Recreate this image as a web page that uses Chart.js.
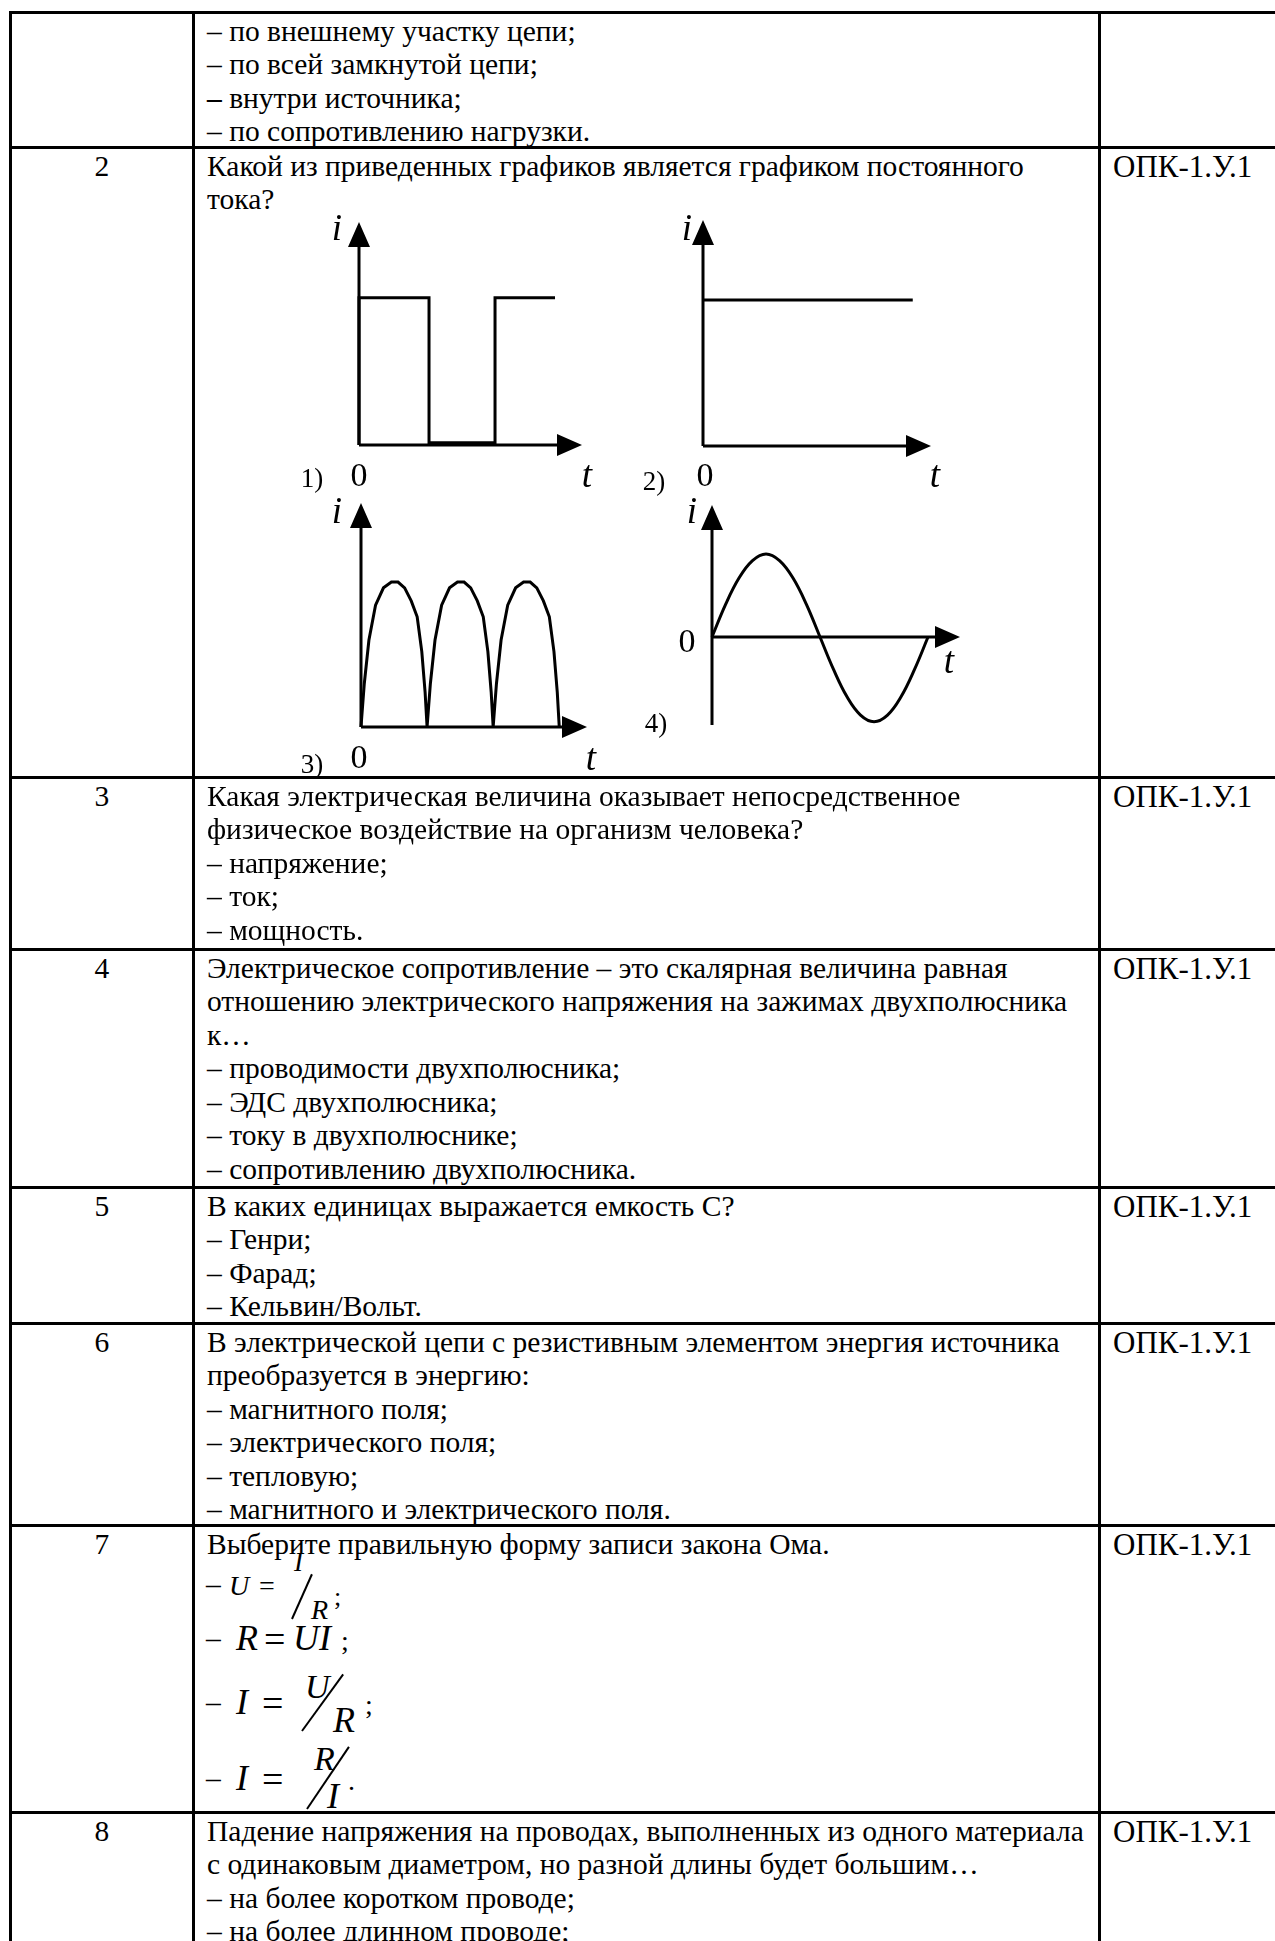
<!DOCTYPE html>
<html lang="ru">
<head>
<meta charset="UTF-8">
<title>Графики тока</title>
<script src="https://cdn.jsdelivr.net/npm/chart.js"></script>
<style>
  html, body { margin: 0; padding: 0; background: #fff; }
  body {
    width: 1275px; height: 1941px; overflow: hidden; position: relative;
    font-family: "Liberation Serif", "Times New Roman", serif; font-size: 29.5px; color: #000;
  }
  .h { position: absolute; left: 8.5px; width: 1300px; height: 3px; background: #000; }
  .v { position: absolute; top: 10.5px; height: 1960px; width: 3px; background: #000; }
  .num { position: absolute; left: 11.5px; width: 180.5px; text-align: center; line-height: 33.5px; }
  .txt { position: absolute; left: 207px; line-height: 33.5px; white-space: nowrap; }
  .code { position: absolute; left: 1113px; line-height: 33.5px; white-space: nowrap; font-size: 31px; }
  canvas { position: absolute; }
  .m { position: absolute; line-height: 1; white-space: nowrap; }
  .it { font-style: italic; }
  .sl { position: absolute; height: 2px; background: #000; transform-origin: 0 50%; }
</style>
</head>
<body>
  <!-- сетка таблицы -->
  <div class="h" style="top:10.5px"></div>
  <div class="h" style="top:145.5px"></div>
  <div class="h" style="top:775.5px"></div>
  <div class="h" style="top:947.5px"></div>
  <div class="h" style="top:1185.5px"></div>
  <div class="h" style="top:1321.5px"></div>
  <div class="h" style="top:1523.5px"></div>
  <div class="h" style="top:1810.5px"></div>
  <div class="v" style="left:8.5px"></div>
  <div class="v" style="left:192px"></div>
  <div class="v" style="left:1098px"></div>

  <!-- строка 1 (продолжение) -->
  <div class="txt" style="top:14.5px">– по внешнему участку цепи;<br>– по всей замкнутой цепи;<br><b>–</b> внутри источника;<br>– по сопротивлению нагрузки.</div>

  <!-- строка 2 -->
  <div class="num" style="top:149.5px">2</div>
  <div class="txt" style="top:149.5px">Какой из приведенных графиков является графиком постоянного<br>тока?</div>
  <div class="code" style="top:149.5px">ОПК-1.У.1</div>
  <canvas id="g1"></canvas>
  <canvas id="g2"></canvas>
  <canvas id="g3"></canvas>
  <canvas id="g4"></canvas>

  <!-- строка 3 -->
  <div class="num" style="top:779.5px">3</div>
  <div class="txt" style="top:779.5px">Какая электрическая величина оказывает непосредственное<br>физическое воздействие на организм человека?<br>– напряжение;<br>– ток;<br>– мощность.</div>
  <div class="code" style="top:779.5px">ОПК-1.У.1</div>

  <!-- строка 4 -->
  <div class="num" style="top:951.5px">4</div>
  <div class="txt" style="top:951.5px">Электрическое сопротивление – это скалярная величина равная<br>отношению электрического напряжения на зажимах двухполюсника<br>к…<br>– проводимости двухполюсника;<br>– ЭДС двухполюсника;<br>– току в двухполюснике;<br>– сопротивлению двухполюсника.</div>
  <div class="code" style="top:951.5px">ОПК-1.У.1</div>

  <!-- строка 5 -->
  <div class="num" style="top:1189.5px">5</div>
  <div class="txt" style="top:1189.5px">В каких единицах выражается емкость С?<br>– Генри;<br>– Фарад;<br>– Кельвин/Вольт.</div>
  <div class="code" style="top:1189.5px">ОПК-1.У.1</div>

  <!-- строка 6 -->
  <div class="num" style="top:1325.5px">6</div>
  <div class="txt" style="top:1325.5px">В электрической цепи с резистивным элементом энергия источника<br>преобразуется в энергию:<br>– магнитного поля;<br>– электрического поля;<br>– тепловую;<br>– магнитного и электрического поля.</div>
  <div class="code" style="top:1325.5px">ОПК-1.У.1</div>

  <!-- строка 7 -->
  <div class="num" style="top:1527.5px">7</div>
  <div class="txt" style="top:1527.5px">Выберите правильную форму записи закона Ома.</div>
  <div class="code" style="top:1527.5px">ОПК-1.У.1</div>
  <!-- U = I/R -->
  <div class="m" style="left:206px;top:1570px;font-size:29.5px">–</div>
  <div class="m it" style="left:229px;top:1572px;font-size:28px">U</div>
  <div class="m" style="left:259px;top:1572px;font-size:28px">=</div>
  <div class="m it" style="left:294px;top:1549px;font-size:27px">I</div>
  <div class="sl" style="left:292px;top:1618px;width:49px;transform:rotate(-66deg)"></div>
  <div class="m it" style="left:311px;top:1596px;font-size:28px">R</div>
  <div class="m" style="left:334px;top:1584px;font-size:26px">;</div>
  <!-- R = UI -->
  <div class="m" style="left:206px;top:1624px;font-size:29.5px">–</div>
  <div class="m it" style="left:236px;top:1620px;font-size:36px">R</div>
  <div class="m" style="left:264px;top:1620px;font-size:38px">=</div>
  <div class="m it" style="left:293px;top:1620px;font-size:36px">UI</div>
  <div class="m" style="left:341px;top:1627px;font-size:28px">;</div>
  <!-- I = U/R -->
  <div class="m" style="left:206px;top:1688px;font-size:29.5px">–</div>
  <div class="m it" style="left:236px;top:1684px;font-size:36px">I</div>
  <div class="m" style="left:262px;top:1684px;font-size:38px">=</div>
  <div class="m it" style="left:305px;top:1670px;font-size:34px">U</div>
  <div class="sl" style="left:302px;top:1730px;width:70px;transform:rotate(-54deg)"></div>
  <div class="m it" style="left:333px;top:1702px;font-size:36px">R</div>
  <div class="m" style="left:365px;top:1691px;font-size:28px">;</div>
  <!-- I = R/I -->
  <div class="m" style="left:206px;top:1764px;font-size:29.5px">–</div>
  <div class="m it" style="left:236px;top:1760px;font-size:36px">I</div>
  <div class="m" style="left:262px;top:1760px;font-size:38px">=</div>
  <div class="m it" style="left:314px;top:1742px;font-size:34px">R</div>
  <div class="sl" style="left:307px;top:1808px;width:75px;transform:rotate(-56deg)"></div>
  <div class="m it" style="left:327px;top:1778px;font-size:36px">I</div>
  <div class="m" style="left:348px;top:1767px;font-size:28px">.</div>

  <!-- строка 8 -->
  <div class="num" style="top:1814.5px">8</div>
  <div class="txt" style="top:1814.5px">Падение напряжения на проводах, выполненных из одного материала<br>с одинаковым диаметром, но разной длины будет большим…<br>– на более коротком проводе;<br>– на более длинном проводе;</div>
  <div class="code" style="top:1814.5px">ОПК-1.У.1</div>

  <script>
    // 1) прямоугольные импульсы (доли длины оси)
    const squareT = [0, 0, 0.314, 0.314, 0.61, 0.61, 0.879];
    const squareI = [0, 0.66, 0.66, 0.01, 0.01, 0.66, 0.66];

    // 2) постоянный ток
    const directT = [0, 0.92];
    const directI = [0.646, 0.646];

    // 3) выпрямленный ток, три полуволны (x - номер полуволны, y - доля амплитуды)
    const rectT = [0, 0.05, 0.12, 0.22, 0.34, 0.46, 0.56, 0.66, 0.76, 0.85, 0.92, 0.97, 1,
                   1.05, 1.12, 1.22, 1.34, 1.46, 1.56, 1.66, 1.76, 1.85, 1.92, 1.97, 2,
                   2.05, 2.12, 2.22, 2.34, 2.46, 2.56, 2.66, 2.76, 2.85, 2.92, 2.97, 3];
    const rectI = [0, 0.30, 0.60, 0.84, 0.96, 1, 1, 0.96, 0.87, 0.76, 0.52, 0.24, 0,
                   0.30, 0.60, 0.84, 0.96, 1, 1, 0.96, 0.87, 0.76, 0.52, 0.24, 0,
                   0.30, 0.60, 0.84, 0.96, 1, 1, 0.96, 0.87, 0.76, 0.52, 0.24, 0];

    // 4) переменный ток, один период
    const sineT = [0, 0.0625, 0.125, 0.1875, 0.25, 0.3125, 0.375, 0.4375, 0.5,
                   0.5625, 0.625, 0.6875, 0.75, 0.8125, 0.875, 0.9375, 1];
    const sineI = [0, 0.39, 0.71, 0.92, 1, 0.92, 0.71, 0.39, 0,
                   -0.39, -0.72, -0.94, -1.02, -0.94, -0.72, -0.39, 0];

    // подписи
    const graphNames = ["1)", "2)", "3)", "4)"];
    const axisNames = ["i", "t", "0"];

    const italic = 'italic 37px "Liberation Serif", "Times New Roman", serif';
    const upright = '34px "Liberation Serif", "Times New Roman", serif';
    const small = '27px "Liberation Serif", "Times New Roman", serif';

    function points(xs, ys) {
      return xs.map((x, k) => ({ x: x, y: ys[k] }));
    }

    // стрелки осей и подписи рисуются по шкалам графика
    function axesPlugin(labels) {
      return {
        id: "axes",
        afterDatasetsDraw(chart) {
          const ctx = chart.ctx;
          const sx = chart.scales.x, sy = chart.scales.y;
          const ox = sx.getPixelForValue(0), oy = sy.getPixelForValue(0);
          const top = sy.getPixelForValue(sy.max);
          const bottom = sy.getPixelForValue(sy.min);
          const right = sx.getPixelForValue(sx.max);
          ctx.save();
          ctx.strokeStyle = "#000";
          ctx.fillStyle = "#000";
          ctx.lineWidth = 3;
          ctx.beginPath();
          ctx.moveTo(ox, bottom);
          ctx.lineTo(ox, top + 20);
          ctx.moveTo(ox, oy);
          ctx.lineTo(right - 20, oy);
          ctx.stroke();
          ctx.beginPath();
          ctx.moveTo(ox, top);
          ctx.lineTo(ox - 11, top + 25);
          ctx.lineTo(ox + 11, top + 25);
          ctx.closePath();
          ctx.moveTo(right, oy);
          ctx.lineTo(right - 25, oy - 11);
          ctx.lineTo(right - 25, oy + 11);
          ctx.closePath();
          ctx.fill();
          ctx.textAlign = "center";
          ctx.textBaseline = "alphabetic";
          labels.forEach((l) => {
            ctx.font = l.font;
            ctx.fillText(l.text, ox + l.dx, oy + l.dy);
          });
          ctx.restore();
        },
      };
    }

    function drawGraph(id, box, data, tension, labels) {
      const ml = 75, mr = 30, mt = 25, mb = 55;
      const canvas = document.getElementById(id);
      const w = box.tipX - box.axisX + ml + mr;
      const h = box.bottomY - box.tipY + mt + mb;
      canvas.width = w;
      canvas.height = h;
      canvas.style.width = w + "px";
      canvas.style.height = h + "px";
      canvas.style.left = box.axisX - ml + "px";
      canvas.style.top = box.tipY - mt + "px";

      new Chart(canvas.getContext("2d"), {
        type: "line",
        data: {
          datasets: [
            {
              data: data,
              borderColor: "#000",
              borderWidth: 3,
              pointRadius: 0,
              fill: false,
              tension: tension,
              clip: false,
            },
          ],
        },
        options: {
          responsive: false,
          animation: false,
          events: [],
          layout: { padding: { left: ml, right: mr, top: mt, bottom: mb } },
          plugins: { legend: { display: false }, tooltip: { enabled: false } },
          scales: {
            x: { type: "linear", min: 0, max: box.xMax, display: false },
            y: { type: "linear", min: box.yMin, max: box.yMax, display: false },
          },
        },
        plugins: [axesPlugin(labels)],
      });
    }

    drawGraph("g1", { axisX: 359, tipX: 582, tipY: 222, bottomY: 445, xMax: 1, yMin: 0, yMax: 1 },
      points(squareT, squareI), 0, [
        { text: axisNames[0], font: italic, dx: -22, dy: -205 },
        { text: graphNames[0], font: small, dx: -47, dy: 42 },
        { text: axisNames[2], font: upright, dx: 0, dy: 41 },
        { text: axisNames[1], font: italic, dx: 228, dy: 42 },
      ]);

    drawGraph("g2", { axisX: 703, tipX: 931, tipY: 220, bottomY: 446, xMax: 1, yMin: 0, yMax: 1 },
      points(directT, directI), 0, [
        { text: axisNames[0], font: italic, dx: -16, dy: -206 },
        { text: graphNames[1], font: small, dx: -49, dy: 44 },
        { text: axisNames[2], font: upright, dx: 2, dy: 40 },
        { text: axisNames[1], font: italic, dx: 232, dy: 41 },
      ]);

    drawGraph("g3", { axisX: 361, tipX: 587, tipY: 503, bottomY: 727, xMax: 3.42, yMin: 0, yMax: 1.545 },
      points(rectT, rectI), 0, [
        { text: axisNames[0], font: italic, dx: -24, dy: -204 },
        { text: graphNames[2], font: small, dx: -49, dy: 46 },
        { text: axisNames[2], font: upright, dx: -2, dy: 41 },
        { text: axisNames[1], font: italic, dx: 230, dy: 43 },
      ]);

    drawGraph("g4", { axisX: 712, tipX: 960, tipY: 505, bottomY: 725, xMax: 1.148, yMin: -1.06, yMax: 1.59 },
      points(sineT, sineI), 0.4, [
        { text: axisNames[0], font: italic, dx: -20, dy: -114 },
        { text: axisNames[2], font: upright, dx: -25, dy: 15 },
        { text: axisNames[1], font: italic, dx: 237, dy: 36 },
        { text: graphNames[3], font: small, dx: -56, dy: 95 },
      ]);
  </script>
</body>
</html>
